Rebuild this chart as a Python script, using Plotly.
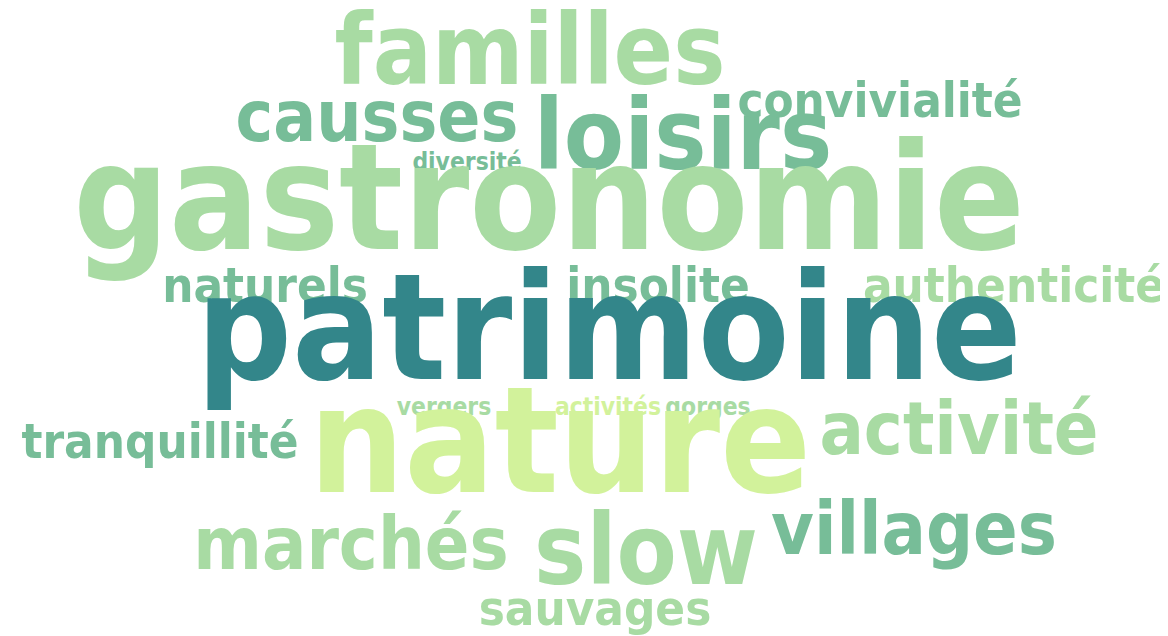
import plotly.graph_objects as go

# Word cloud data
words = ["familles", "causses", "loisirs", "convivialité", "diversité",
         "gastronomie", "naturels", "insolite", "authenticité", "patrimoine",
         "vergers", "activités", "gorges", "tranquillité", "nature",
         "activité", "marchés", "slow", "villages", "sauvages"]
counts = [4, 2.9, 4, 2, 1,
          6.1, 2, 2, 2, 6.1,
          1, 1, 1, 2, 6.1,
          3, 3, 4, 3, 2]

# Layout of the cloud (word centre x, baseline y, in pixels)
x_pos = [522, 369, 675, 872, 459,
         541, 257, 650, 1006, 601,
         436, 600, 700, 152, 552,
         951, 343, 638, 906, 587]
y_base = [82, 137, 167, 112, 163,
          250, 297, 297, 297, 380,
          408, 408, 408, 453, 493,
          450, 565, 582, 550, 620]

PX_PER_COUNT = 24.4
TEAL = "#33868A"
MID = "#77BD98"
LIGHT = "#A8DBA3"
PALE = "#D2F29B"
colors = [LIGHT, MID, MID, MID, MID,
          LIGHT, MID, MID, LIGHT, TEAL,
          LIGHT, PALE, LIGHT, MID, PALE,
          LIGHT, LIGHT, LIGHT, MID, LIGHT]

sizes = [c * PX_PER_COUNT for c in counts]
y_mid = [b - 0.31 * s for b, s in zip(y_base, sizes)]

fig = go.Figure(go.Scatter(
    x=x_pos, y=y_mid, text=words, mode="text",
    textposition="middle center",
    textfont=dict(family="DejaVu Sans Condensed", size=sizes, color=colors, weight="bold"),
    hoverinfo="text",
    cliponaxis=False,
))
fig.update_layout(
    width=1168, height=636,
    margin=dict(l=0, r=0, t=0, b=0),
    paper_bgcolor="white", plot_bgcolor="white",
    xaxis=dict(range=[0, 1168], visible=False, fixedrange=True),
    yaxis=dict(range=[636, 0], visible=False, fixedrange=True),
    showlegend=False,
)
fig.write_html("out.html")
